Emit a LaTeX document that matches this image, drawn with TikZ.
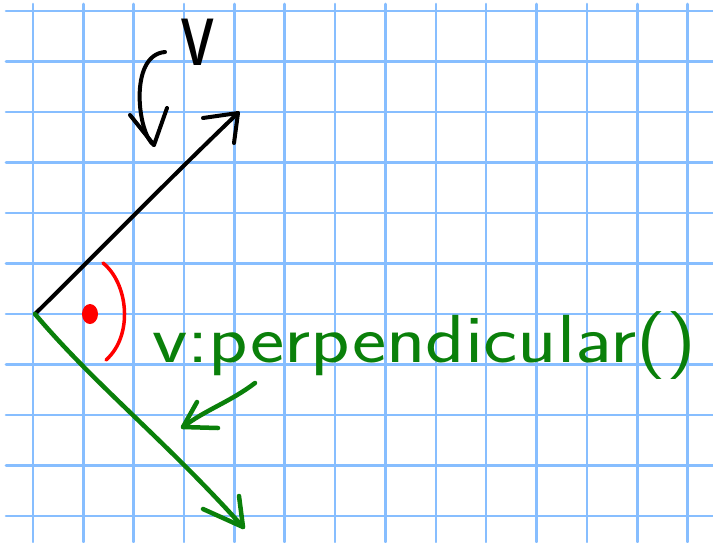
\documentclass[tikz,border=0pt]{standalone}
\definecolor{ink}{RGB}{0,0,0}
\definecolor{paper}{RGB}{135,190,255}
\definecolor{pen}{RGB}{10,128,10}
\definecolor{redpen}{RGB}{255,0,0}
\tikzset{
  every picture/.style={x=1pt, y=-1pt, line cap=round, line join=round},
  gridline/.style={draw=paper, line width=2.6pt},
  stroke/.style={draw=ink, line width=4pt},
  greenstroke/.style={draw=pen, line width=4.5pt},
  anglearc/.style={draw=redpen, line width=3.5pt},
  hand/.style={font=\fontsize{68}{68}\selectfont\sffamily, text=pen, inner sep=0pt, anchor=base west},
  vletter/.style={font=\fontsize{80}{80}\selectfont\sffamily, text=ink, inner sep=0pt, anchor=base},
}

\begin{document}
\begin{tikzpicture}
  \useasboundingbox (0,0) rectangle (713,542);
  \fill[white] (0,0) rectangle (713,542);
  % squared paper
  \foreach \i in {0,...,13} { \draw[gridline] ({33+50.35*\i},4) -- ({33+50.35*\i},542); }
  \foreach \j in {0,...,10} { \draw[gridline] (6,{11+50.5*\j}) -- (713,{11+50.5*\j}); }

  \coordinate (O) at (35,314);
  \coordinate (vtip) at (238,113);
  \coordinate (vbarbL) at (203,118);
  \coordinate (vbarbR) at (234,143);
  \coordinate (cstart) at (165,52);
  \coordinate (ctip) at (154,145);
  \coordinate (cbarbL) at (130,115);
  \coordinate (cbarbR) at (167,108);
  \coordinate (gtip) at (243,527);
  \coordinate (gbarbL) at (203,509);
  \coordinate (gbarbR) at (239,496);
  \coordinate (pstart) at (255,383);
  \coordinate (ptip) at (183,427);
  \coordinate (pbarbL) at (197,402);
  \coordinate (pbarbR) at (218,428);

  % vector v and its turn
  \draw[stroke] (O) .. controls (100,250) and (170,178) .. (vtip);
  \draw[stroke] (vbarbL) -- (vtip) -- (vbarbR);
  \draw[stroke] (cstart) .. controls (128,55) and (138,135) .. (ctip);
  \draw[stroke] (cbarbL) -- (ctip) -- (cbarbR);
  \node[vletter] (vname) at (198,65) {\scalebox{1}[1.35]{v}};

  % right angle
  \draw[anglearc] (103,263) .. controls (128,283) and (134,335) .. (106,360);
  \fill[redpen] (90,314) ellipse [x radius=8, y radius=10];

  % the perpendicular vector
  \draw[greenstroke] (O) .. controls (95,385) and (165,440) .. (gtip);
  \draw[greenstroke] (gbarbL) -- (gtip) -- (gbarbR);
  \node[hand] (perp) at (152,362) {\scalebox{1.2}[1]{v:perpendicular()}};
  \draw[greenstroke] (pstart) .. controls (230,402) and (205,410) .. (ptip);
  \draw[greenstroke] (pbarbL) -- (ptip) -- (pbarbR);
\end{tikzpicture}
\end{document}
